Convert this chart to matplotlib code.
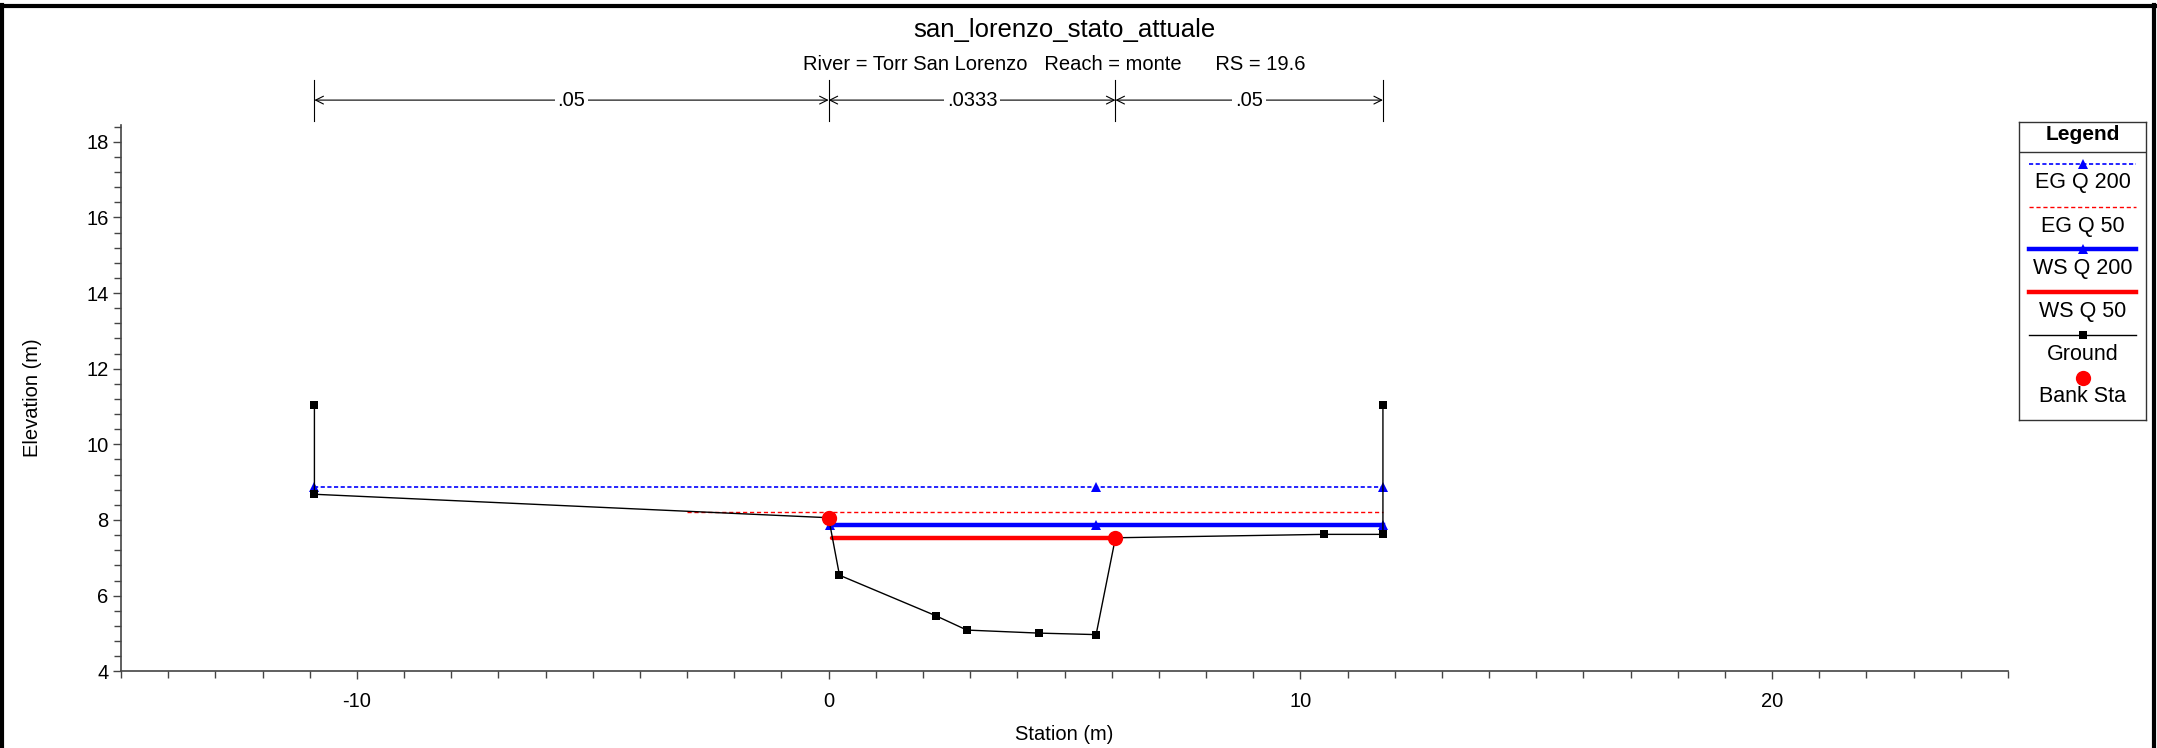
import matplotlib
matplotlib.use('Agg')
import matplotlib.pyplot as plt
from matplotlib.ticker import MultipleLocator
from matplotlib.transforms import blended_transform_factory
from matplotlib.lines import Line2D

plt.rcParams['font.family'] = ['Liberation Sans', 'DejaVu Sans']
plt.rcParams['axes.unicode_minus'] = False

# ---------------- data ----------------
title = "san_lorenzo_stato_attuale"
subtitle = "River = Torr San Lorenzo   Reach = monte      RS = 19.6"

ground_sta = [-10.9, -10.9, 0.0, 0.23, 2.27, 2.93, 4.45, 5.67, 6.08, 10.5, 11.75, 11.75]
ground_elev = [11.03, 8.68, 8.06, 6.54, 5.47, 5.09, 5.01, 4.97, 7.53, 7.62, 7.62, 11.03]

eg200_sta = [-10.9, 5.67, 11.75]
eg200_elev = [8.88, 8.88, 8.88]
eg50_sta = [-3.0, 11.75]
eg50_elev = [8.22, 8.22]
ws200_sta = [0.03, 5.67, 11.75]
ws200_elev = [7.87, 7.87, 7.87]
ws50_sta = [0.08, 6.08]
ws50_elev = [7.52, 7.52]
bank_sta = [0.0, 6.08]
bank_elev = [8.06, 7.53]

n_breaks = [-10.9, 0.0, 6.08, 11.75]
n_values = [".05", ".0333", ".05"]

legend_labels = ["EG Q 200", "EG Q 50", "WS Q 200", "WS Q 50", "Ground", "Bank Sta"]

# ---------------- figure ----------------
W, H = 2157, 748
fig = plt.figure(figsize=(W / 100, H / 100), dpi=100)
ax_bottom, ax_height = 76.7, 546.6
ax = fig.add_axes([121 / W, ax_bottom / H, 1887 / W, ax_height / H])

ax.plot(eg200_sta, eg200_elev, color='blue', lw=1.2, dashes=(2.5, 1.5),
        marker='^', ms=7.5, markeredgewidth=0, zorder=3)
ax.plot(eg50_sta, eg50_elev, color='red', lw=1.0, dashes=(3, 2), zorder=3)
ax.plot(ws200_sta, ws200_elev, color='blue', lw=3.2, marker='^', ms=7.5,
        markeredgewidth=0, zorder=4)
ax.plot(ws50_sta, ws50_elev, color='red', lw=3.2, zorder=4, solid_capstyle='round')
ax.plot(ground_sta, ground_elev, color='black', lw=1.0, marker='s', ms=6.2,
        markeredgewidth=0, zorder=5)
ax.plot(bank_sta, bank_elev, linestyle='none', marker='o', color='red', ms=11,
        markeredgewidth=0, zorder=6)

ax.set_xlim(-15, 25)
ax.set_ylim(4, 18.45)
ax.xaxis.set_major_locator(MultipleLocator(10))
ax.xaxis.set_minor_locator(MultipleLocator(1))
ax.yaxis.set_major_locator(MultipleLocator(2))
ax.yaxis.set_minor_locator(MultipleLocator(0.4))
for s in ['top', 'right']:
    ax.spines[s].set_visible(False)
for s in ['left', 'bottom']:
    ax.spines[s].set_color('#444444')
    ax.spines[s].set_linewidth(1.2)
ax.tick_params(which='major', length=6, width=1, color='#444444', labelsize=14.5, pad=3)
ax.tick_params(which='minor', length=5, width=1, color='#444444')
ax.tick_params(axis='x', which='major', pad=9)
ax.set_xlabel("Station (m)", fontsize=14.5)
ax.xaxis.set_label_coords(0.5, (14 - ax_bottom) / ax_height)
ax.xaxis.label.set_va('center')
ax.set_ylabel("Elevation (m)", fontsize=14.5, labelpad=32)

# Manning's n annotations
tr = blended_transform_factory(ax.transData, ax.transAxes)
y_arrow = 1.045
for xb in n_breaks:
    ax.plot([xb, xb], [1.007, 1.082], color='black', lw=0.8, transform=tr, clip_on=False)
for i, nv in enumerate(n_values):
    x0, x1 = n_breaks[i], n_breaks[i + 1]
    ax.annotate('', xy=(x1, y_arrow), xytext=(x0, y_arrow), xycoords=tr, textcoords=tr,
                arrowprops=dict(arrowstyle='<->', lw=0.8, color='black',
                                shrinkA=0, shrinkB=0, mutation_scale=14),
                annotation_clip=False)
    ax.text((x0 + x1) / 2, y_arrow, nv, transform=tr, ha='center', va='center',
            fontsize=14.5, bbox=dict(facecolor='white', edgecolor='none', pad=2))

# titles
fig.text(1064 / W, 1 - 30 / H, title, ha='center', va='center', fontsize=18.5)
fig.text(1054 / W, 1 - 65 / H, subtitle, ha='center', va='center', fontsize=14.5)

# legend box (custom, HEC-RAS style)
lx0, ly0, lw_, lh_ = 2019, 122, 127, 298
lax = fig.add_axes([lx0 / W, 1 - (ly0 + lh_) / H, lw_ / W, lh_ / H])
lax.set_xlim(0, lw_)
lax.set_ylim(lh_, 0)
lax.set_xticks([])
lax.set_yticks([])
for s in lax.spines.values():
    s.set_color('#333333')
    s.set_linewidth(1.0)
lax.text(lw_ / 2, 13, "Legend", ha='center', va='center', fontsize=15, fontweight='bold')
lax.plot([0, lw_], [29.7, 29.7], color='#333333', lw=1.0)
xs = [10, 117]
xm = 64
line_y = [42.3, 85.3, 127.3, 170.3, 213, 255.7]
text_y = [60.7, 104.7, 146.7, 189.7, 232, 274.7]
styles = [
    dict(color='blue', lw=1.2, dashes=(2.5, 1.5)),
    dict(color='red', lw=1.0, dashes=(3, 2)),
    dict(color='blue', lw=3.2),
    dict(color='red', lw=3.2),
    dict(color='black', lw=1.0),
    None,
]
markers = ['^', None, '^', None, 's', 'o']
mcolors = ['blue', None, 'blue', None, 'black', 'red']
msizes = [7.5, None, 7.5, None, 6.2, 11]
for i, lab in enumerate(legend_labels):
    if styles[i] is not None:
        lax.plot(xs, [line_y[i]] * 2, **styles[i])
    if markers[i] is not None:
        lax.plot([xm], [line_y[i]], marker=markers[i], color=mcolors[i], ms=msizes[i],
                 markeredgewidth=0, linestyle='none')
    lax.text(lw_ / 2, text_y[i], lab, ha='center', va='center', fontsize=15.5)

# figure border (left, top, right)
fig.add_artist(Line2D([0.0007, 0.0007], [0, 1 - 5 / H], transform=fig.transFigure, color='black', lw=3))
fig.add_artist(Line2D([0, 1], [1 - 6 / H, 1 - 6 / H], transform=fig.transFigure, color='black', lw=3))
fig.add_artist(Line2D([0.9988, 0.9988], [0, 1 - 5 / H], transform=fig.transFigure, color='black', lw=3))

fig.savefig('out.png', dpi=100)
